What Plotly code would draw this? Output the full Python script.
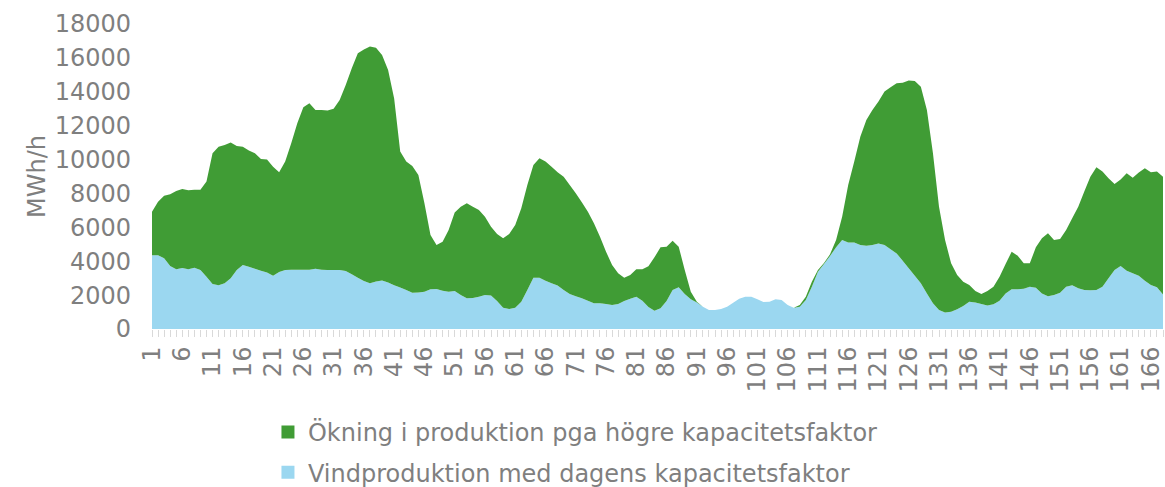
import plotly.graph_objects as go

hours = list(range(1, 169))

vind_idag = [
    4350, 4350, 4170, 3720, 3520, 3600, 3520, 3620, 3480, 3090,
    2660, 2580, 2700, 2990, 3480, 3780, 3680, 3560, 3440, 3330,
    3150, 3370, 3480, 3500, 3500, 3500, 3500, 3560, 3500, 3480,
    3480, 3480, 3420, 3230, 3030, 2830, 2700, 2800, 2860, 2740,
    2580, 2450, 2300, 2140, 2160, 2200, 2340, 2360, 2260, 2200,
    2240, 2000, 1810, 1830, 1900, 2000, 1970, 1650, 1260, 1180,
    1260, 1610, 2300, 3030, 3030, 2850, 2700, 2560, 2300, 2060,
    1940, 1810, 1670, 1520, 1520, 1480, 1420, 1480, 1650, 1790,
    1900, 1670, 1300, 1080, 1220, 1650, 2300, 2460, 2060, 1750,
    1570, 1320, 1120, 1120, 1180, 1320, 1550, 1790, 1900, 1900,
    1750, 1590, 1610, 1750, 1710, 1420, 1260, 1320, 1710, 2500,
    3380, 3840, 4310, 4820, 5250, 5110, 5110, 4960, 4920, 4960,
    5050, 4960, 4700, 4460, 4030, 3580, 3150, 2700, 2100, 1520,
    1120, 980, 1020, 1160, 1360, 1610, 1570, 1480, 1380, 1460,
    1670, 2100, 2340, 2340, 2380, 2500, 2440, 2100, 1940, 2000,
    2140, 2500, 2580, 2400, 2300, 2280, 2300, 2500, 2990, 3480,
    3720, 3440, 3290, 3150, 2850, 2600, 2460, 2040,
]

okning = [
    2570, 3160, 3700, 4230, 4630, 4660, 4670, 4600, 4740, 5610,
    7710, 8180, 8160, 8010, 7320, 6980, 6850, 6810, 6600, 6670,
    6430, 5880, 6400, 7460, 8640, 9590, 9820, 9370, 9430, 9410,
    9520, 10040, 10980, 12160, 13240, 13670, 13970, 13800, 13310, 12550,
    11020, 8020, 7580, 7480, 6930, 5220, 3210, 2600, 2890, 3640,
    4630, 5220, 5610, 5390, 5120, 4630, 4070, 3960, 4090, 4430,
    4880, 5510, 6200, 6650, 7040, 7030, 6880, 6690, 6690, 6440,
    6070, 5670, 5250, 4720, 3930, 3080, 2360, 1810, 1380, 1400,
    1620, 1850, 2400, 3150, 3600, 3210, 2910, 2400, 1420, 450,
    40, 0, 0, 0, 0, 0, 0, 0, 0, 0,
    0, 0, 0, 0, 0, 0, 0, 100, 190, 290,
    100, 60, 100, 430, 1380, 3390, 4770, 6390, 7420, 7970,
    8370, 9050, 9560, 10040, 10510, 11080, 11490, 11600, 10830, 8850,
    6100, 4270, 2860, 2030, 1430, 990, 670, 580, 860, 1040,
    1420, 1740, 2220, 1990, 1500, 1380, 2380, 3250, 3710, 3250,
    3170, 3340, 3950, 4820, 5810, 6710, 7240, 6790, 5900, 5080,
    5110, 5750, 5640, 6080, 6630, 6650, 6830, 6950,
]

name_vind = "Vindproduktion med dagens kapacitetsfaktor"
name_okn = "Ökning i produktion pga högre kapacitetsfaktor"
blue = "#9BD7F0"
green = "#409C35"
grey = "#7F7F7F"
font_family = "DejaVu Sans"
fs = 24

fig = go.Figure()
fig.add_trace(go.Scatter(x=hours, y=vind_idag, stackgroup="s", mode="none",
                         fillcolor=blue, name=name_vind, showlegend=False))
fig.add_trace(go.Scatter(x=hours, y=okning, stackgroup="s", mode="none",
                         fillcolor=green, name=name_okn, showlegend=False))
# legend entries (green first, as in the reference)
fig.add_trace(go.Scatter(x=[None], y=[None], mode="markers", name=name_okn,
                         marker=dict(symbol="square", size=13, color=green),
                         legendgroup="g"))
fig.add_trace(go.Scatter(x=[None], y=[None], mode="markers", name=name_vind,
                         marker=dict(symbol="square", size=13, color=blue),
                         legendgroup="b"))

fig.update_layout(
    width=1165, height=487,
    margin=dict(l=152, r=2, t=24, b=158, autoexpand=False),
    plot_bgcolor="white", paper_bgcolor="white",
    font=dict(family=font_family, size=fs, color=grey),
    legend=dict(orientation="v", x=0.1147, y=-0.265, xanchor="left", yanchor="top",
                traceorder="grouped", tracegroupgap=6,
                font=dict(size=fs, color=grey), bgcolor="rgba(0,0,0,0)"),
)
fig.update_xaxes(
    range=[1, 168], tickmode="array", tickvals=list(range(1, 169, 5)),
    ticktext=[str(v) for v in range(1, 169, 5)], tickangle=-90,
    ticks="outside", ticklen=7, tickcolor="#D9D9D9",
    minor=dict(dtick=1, tick0=1, ticks="outside", ticklen=7, tickcolor="#D9D9D9"),
    showline=False, showgrid=False, zeroline=False, automargin=False,
    tickfont=dict(size=fs, color=grey),
)
fig.update_yaxes(
    range=[0, 18000], tickvals=list(range(0, 18001, 2000)), tickformat="d",
    showgrid=False, zeroline=False, showline=False, automargin=False,
    tickfont=dict(size=fs, color=grey), ticklabelstandoff=20,
    title=dict(text="MWh/h", font=dict(size=fs, color=grey), standoff=2),
)

# remove the default 8px page margin so the figure fills the window exactly
fig.write_html("out.html",
               config={"displayModeBar": False},
               post_script="document.body.style.margin='0';document.body.style.overflow='hidden';")
